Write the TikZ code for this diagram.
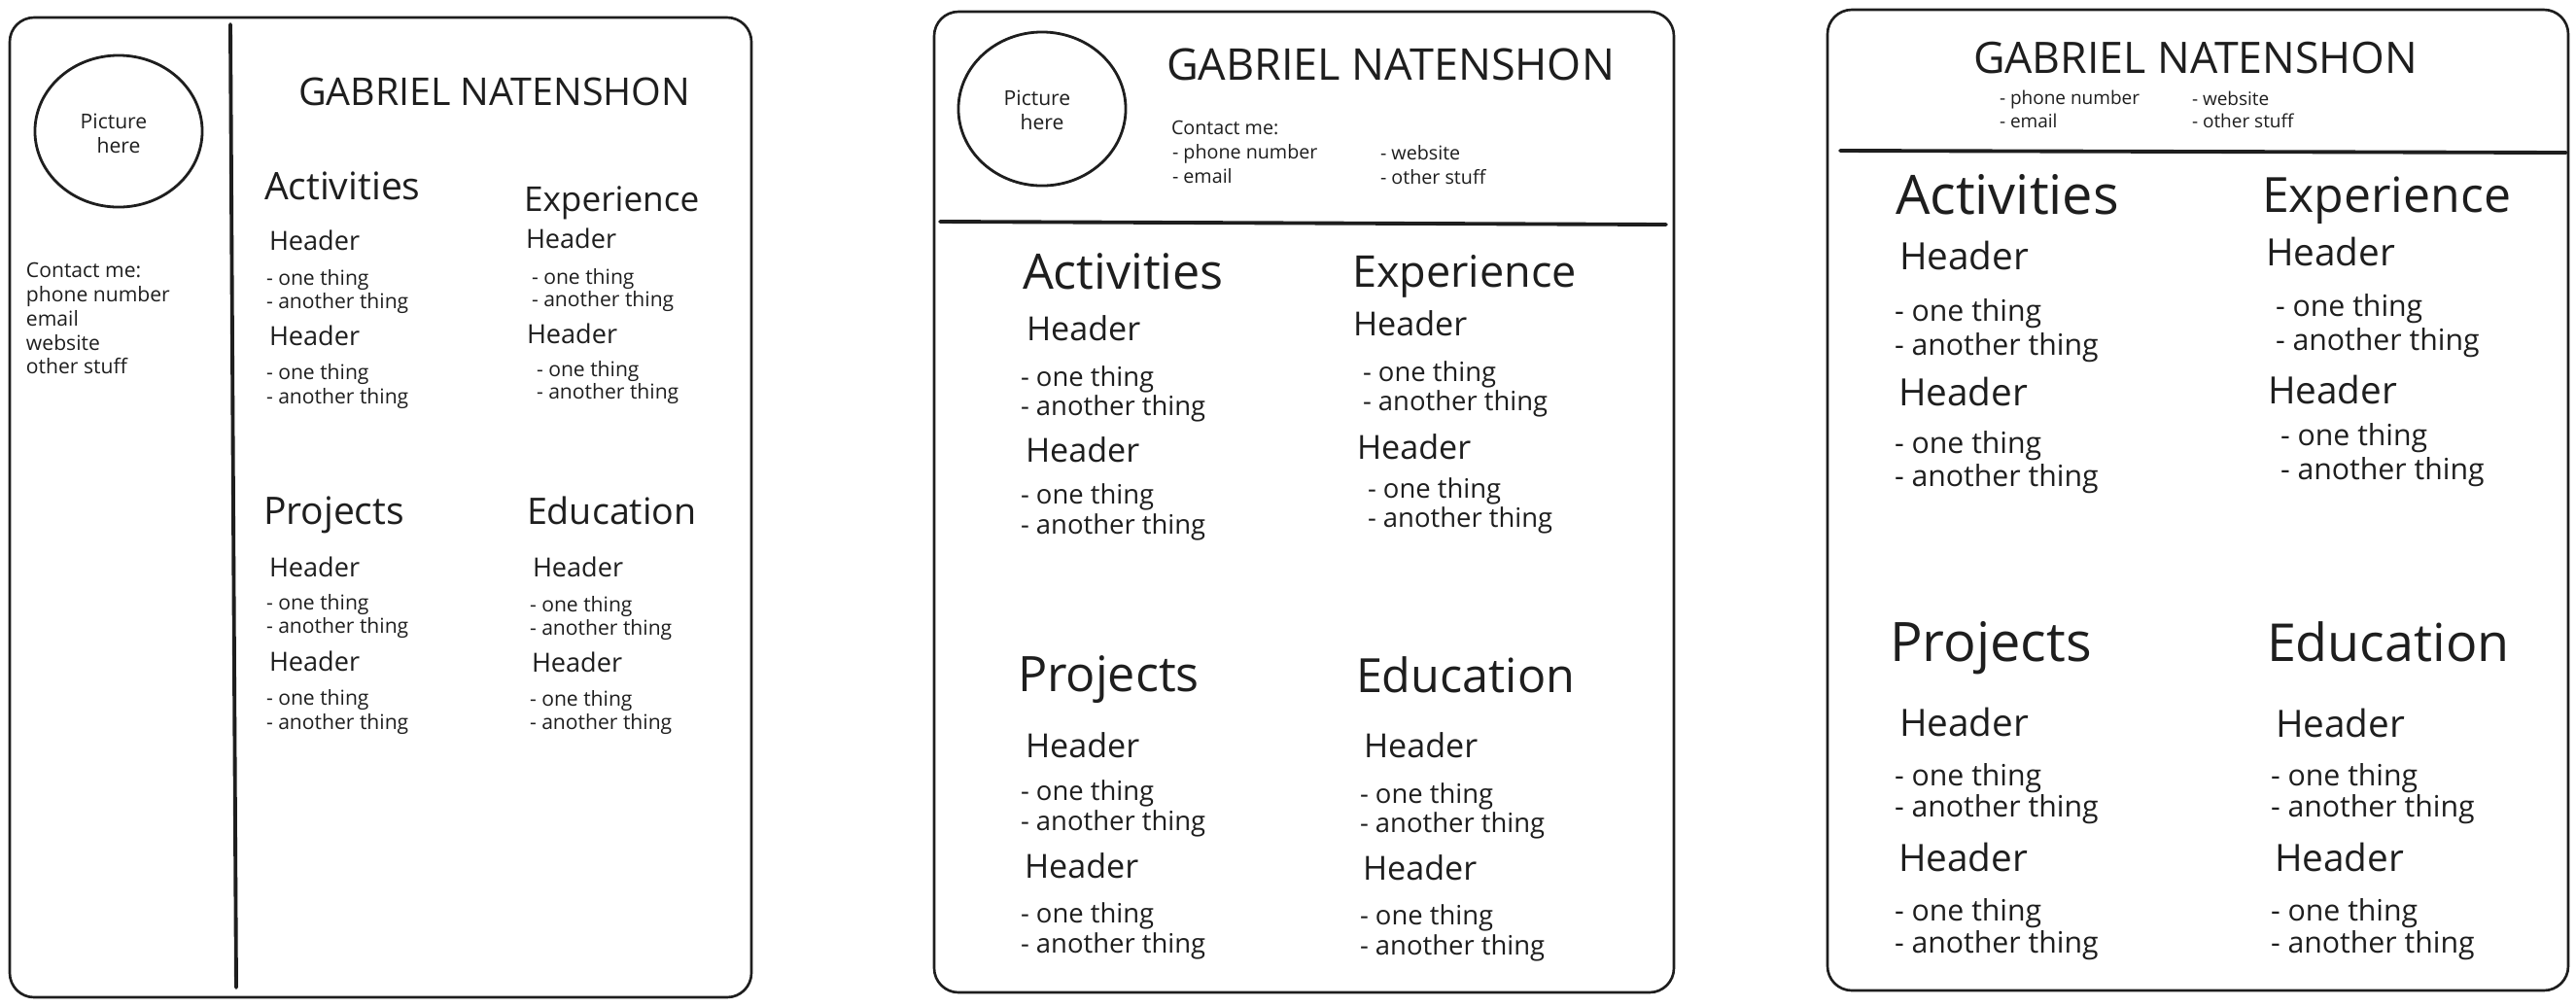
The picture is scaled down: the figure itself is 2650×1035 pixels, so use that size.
\documentclass[tikz,border=0pt]{standalone}
\usepackage{fontspec}
\setmainfont{Open Sans}
\usetikzlibrary{shapes.geometric}
\definecolor{ink}{HTML}{1E1E1E}
\tikzset{
 base/.style={anchor=base west, inner sep=0pt, outer sep=0pt, text=ink},
 cbase/.style={anchor=base, inner sep=0pt, outer sep=0pt, text=ink},
 nmA/.style={base, font=\fontsize{11.2}{13}\selectfont},
 tiA/.style={base, font=\fontsize{10.7}{13}\selectfont},
 tiAw/.style={base, font=\fontsize{11.1}{13}\selectfont},
 tiAx/.style={base, font=\fontsize{10.0}{12}\selectfont},
 hdA/.style={base, font=\fontsize{7.7}{9}\selectfont},
 itA/.style={base, font=\fontsize{6}{7}\selectfont},
 ctA/.style={base, font=\fontsize{6}{7}\selectfont},
 pcA/.style={cbase, font=\fontsize{6}{7}\selectfont},
 nmB/.style={base, font=\fontsize{12.8}{15}\selectfont},
 tiB/.style={base, font=\fontsize{13.8}{16}\selectfont},
 tiBw/.style={base, font=\fontsize{14.3}{16}\selectfont},
 tiBx/.style={base, font=\fontsize{12.8}{15}\selectfont},
 hdB/.style={base, font=\fontsize{9.7}{11}\selectfont},
 itB/.style={base, font=\fontsize{7.8}{9}\selectfont},
 ctB/.style={base, font=\fontsize{5.6}{7}\selectfont},
 pcB/.style={cbase, font=\fontsize{6}{7}\selectfont},
 nmC/.style={base, font=\fontsize{12.7}{15}\selectfont},
 tiC/.style={base, font=\fontsize{15.3}{18}\selectfont},
 tiCw/.style={base, font=\fontsize{15.9}{18}\selectfont},
 tiCx/.style={base, font=\fontsize{14.2}{17}\selectfont},
 hdC/.style={base, font=\fontsize{11}{13}\selectfont},
 itC/.style={base, font=\fontsize{8.6}{10}\selectfont},
 ctC/.style={base, font=\fontsize{5.4}{7}\selectfont},
 page/.style={draw=ink, line width=0.75pt, rounded corners=0.25cm},
 divider/.style={draw=ink, line width=1.1pt, line cap=round},
 photo/.style={draw=ink, line width=0.8pt, ellipse, inner sep=0pt},
}
\begin{document}
\begin{tikzpicture}[x=0.01cm, y=-0.01cm]
\useasboundingbox[fill=white] (0,0) rectangle (2650,1035);

% ===================== Panel 1 =====================
\draw[page] (10,18) rectangle (773,1026);
\draw[divider] (237,25) -- (243,1016);
\node[photo, minimum width=1.72cm, minimum height=1.56cm] (photoA) at (122,135) {};
\node[pcA] (picA1) at (117,132) {Picture};
\node[pcA] (picA2) at (122,157) {here};
\node[ctA] (cA1) at (27,285) {Contact me:};
\node[ctA] (cA2) at (27,310) {phone number};
\node[ctA] (cA3) at (27,335) {email};
\node[ctA] (cA4) at (27,360) {website};
\node[ctA] (cA5) at (27,384) {other stuff};
\node[nmA] (nameA) at (307,108) {GABRIEL NATENSHON};
\node[tiAw] (actA) at (272,205) {Activities};
\node[tiAx] (expA) at (539,217) {Experience};
\node[hdA] (actA-h1) at (277,257) {Header};
\node[itA] (actA-a1) at (274,293) {- one thing};
\node[itA] (actA-b1) at (274,317) {- another thing};
\node[hdA] (actA-h2) at (277,355) {Header};
\node[itA] (actA-a2) at (274,390) {- one thing};
\node[itA] (actA-b2) at (274,415) {- another thing};
\node[hdA] (expA-h1) at (541,255) {Header};
\node[itA] (expA-a1) at (547,292) {- one thing};
\node[itA] (expA-b1) at (547,315) {- another thing};
\node[hdA] (expA-h2) at (542,353) {Header};
\node[itA] (expA-a2) at (552,387) {- one thing};
\node[itA] (expA-b2) at (552,410) {- another thing};
\node[tiAw] (prjA) at (271,539) {Projects};
\node[tiA] (eduA) at (542,539) {Education};
\node[hdA] (prjA-h1) at (277,593) {Header};
\node[itA] (prjA-a1) at (274,627) {- one thing};
\node[itA] (prjA-b1) at (274,651) {- another thing};
\node[hdA] (prjA-h2) at (277,690) {Header};
\node[itA] (prjA-a2) at (274,725) {- one thing};
\node[itA] (prjA-b2) at (274,750) {- another thing};
\node[hdA] (eduA-h1) at (548,593) {Header};
\node[itA] (eduA-a1) at (545,629) {- one thing};
\node[itA] (eduA-b1) at (545,653) {- another thing};
\node[hdA] (eduA-h2) at (547,691) {Header};
\node[itA] (eduA-a2) at (545,726) {- one thing};
\node[itA] (eduA-b2) at (545,750) {- another thing};

% ===================== Panel 2 =====================
\draw[page] (961,12) rectangle (1722,1021);
\draw[divider] (967,228) -- (1714,231);
\node[photo, minimum width=1.72cm, minimum height=1.58cm] (photoB) at (1072,112) {};
\node[pcB] (picB1) at (1067,108) {Picture};
\node[pcB] (picB2) at (1072,133) {here};
\node[nmB] (nameB) at (1200,82) {GABRIEL NATENSHON};
\node[ctB] (cB1) at (1205,138) {Contact me:};
\node[ctB] (cB2) at (1206,163) {- phone number};
\node[ctB] (cB3) at (1206,188) {- email};
\node[ctB] (cB4) at (1420,164) {- website};
\node[ctB] (cB5) at (1420,189) {- other stuff};
\node[tiBw] (actB) at (1052,297) {Activities};
\node[tiBx] (expB) at (1391,295) {Experience};
\node[hdB] (actB-h1) at (1056,350) {Header};
\node[itB] (actB-a1) at (1050,397) {- one thing};
\node[itB] (actB-b1) at (1050,427) {- another thing};
\node[hdB] (actB-h2) at (1055,475) {Header};
\node[itB] (actB-a2) at (1050,518) {- one thing};
\node[itB] (actB-b2) at (1050,549) {- another thing};
\node[hdB] (expB-h1) at (1392,345) {Header};
\node[itB] (expB-a1) at (1402,392) {- one thing};
\node[itB] (expB-b1) at (1402,422) {- another thing};
\node[hdB] (expB-h2) at (1396,472) {Header};
\node[itB] (expB-a2) at (1407,512) {- one thing};
\node[itB] (expB-b2) at (1407,542) {- another thing};
\node[tiBw] (prjB) at (1047,711) {Projects};
\node[tiB] (eduB) at (1395,712) {Education};
\node[hdB] (prjB-h1) at (1055,779) {Header};
\node[itB] (prjB-a1) at (1050,823) {- one thing};
\node[itB] (prjB-b1) at (1050,854) {- another thing};
\node[hdB] (prjB-h2) at (1054,903) {Header};
\node[itB] (prjB-a2) at (1050,949) {- one thing};
\node[itB] (prjB-b2) at (1050,980) {- another thing};
\node[hdB] (eduB-h1) at (1403,779) {Header};
\node[itB] (eduB-a1) at (1399,826) {- one thing};
\node[itB] (eduB-b1) at (1399,856) {- another thing};
\node[hdB] (eduB-h2) at (1402,905) {Header};
\node[itB] (eduB-a2) at (1399,951) {- one thing};
\node[itB] (eduB-b2) at (1399,982) {- another thing};

% ===================== Panel 3 =====================
\draw[page] (1880,10) rectangle (2642,1019);
\draw[divider] (1893,155) -- (2640,157);
\node[nmC] (nameC) at (2030,75) {GABRIEL NATENSHON};
\node[ctC] (cC1) at (2057,107) {- phone number};
\node[ctC] (cC2) at (2057,131) {- email};
\node[ctC] (cC3) at (2255,108) {- website};
\node[ctC] (cC4) at (2255,131) {- other stuff};
\node[tiCw] (actC) at (1950,220) {Activities};
\node[tiCx] (expC) at (2327,218) {Experience};
\node[hdC] (actC-h1) at (1954,277) {Header};
\node[itC] (actC-a1) at (1949,330) {- one thing};
\node[itC] (actC-b1) at (1949,365) {- another thing};
\node[hdC] (actC-h2) at (1953,417) {Header};
\node[itC] (actC-a2) at (1949,466) {- one thing};
\node[itC] (actC-b2) at (1949,500) {- another thing};
\node[hdC] (expC-h1) at (2331,273) {Header};
\node[itC] (expC-a1) at (2341,325) {- one thing};
\node[itC] (expC-b1) at (2341,360) {- another thing};
\node[hdC] (expC-h2) at (2333,415) {Header};
\node[itC] (expC-a2) at (2346,458) {- one thing};
\node[itC] (expC-b2) at (2346,493) {- another thing};
\node[tiCw] (prjC) at (1944,680) {Projects};
\node[tiC] (eduC) at (2332,680) {Education};
\node[hdC] (prjC-h1) at (1954,757) {Header};
\node[itC] (prjC-a1) at (1949,808) {- one thing};
\node[itC] (prjC-b1) at (1949,840) {- another thing};
\node[hdC] (prjC-h2) at (1953,896) {Header};
\node[itC] (prjC-a2) at (1949,947) {- one thing};
\node[itC] (prjC-b2) at (1949,980) {- another thing};
\node[hdC] (eduC-h1) at (2341,758) {Header};
\node[itC] (eduC-a1) at (2336,808) {- one thing};
\node[itC] (eduC-b1) at (2336,840) {- another thing};
\node[hdC] (eduC-h2) at (2340,896) {Header};
\node[itC] (eduC-a2) at (2336,947) {- one thing};
\node[itC] (eduC-b2) at (2336,980) {- another thing};
\end{tikzpicture}
\end{document}
